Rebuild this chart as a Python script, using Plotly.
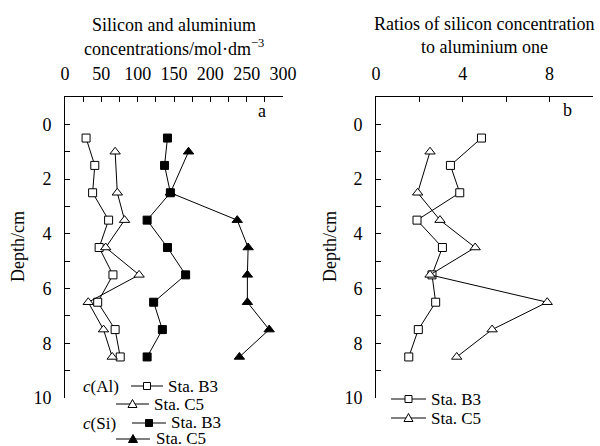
import plotly.graph_objects as go

# ---- data ----
depth_al_b3 = [0.5, 1.5, 2.5, 3.5, 4.5, 5.5, 6.5, 7.5, 8.5]
al_b3 = [29, 41, 38, 60, 47, 66, 45, 69, 76]
depth_al_c5 = [1.0, 2.5, 3.5, 4.5, 5.5, 6.5, 7.5, 8.5]
al_c5 = [69, 72, 82, 56, 102, 32, 53, 65]
depth_si_b3 = [0.5, 1.5, 2.5, 3.5, 4.5, 5.5, 6.5, 7.5, 8.5]
si_b3 = [141, 137, 145, 113, 141, 166, 122, 134, 113]
depth_si_c5 = [1.0, 2.5, 3.5, 4.5, 5.5, 6.5, 7.5, 8.5]
si_c5 = [170, 145, 237, 252, 251, 251, 281, 240]
depth_r_b3 = [0.5, 1.5, 2.5, 3.5, 4.5, 5.5, 6.5, 7.5, 8.5]
ratio_b3 = [4.86, 3.43, 3.86, 1.89, 3.06, 2.58, 2.75, 1.95, 1.51]
depth_r_c5 = [1.0, 2.5, 3.5, 4.5, 5.5, 6.5, 7.5, 8.5]
ratio_c5 = [2.49, 1.92, 2.95, 4.57, 2.49, 7.89, 5.35, 3.72]
depth_ticks = [0, 2, 4, 6, 8, 10]

W, H = 600, 446
FONT = "Liberation Serif"
FS = 18
LFS = 17

fig = go.Figure()

def series(x, y, symbol, filled, xa, ya):
    fig.add_trace(go.Scatter(
        x=x, y=y, mode="lines+markers", xaxis=xa, yaxis=ya,
        line=dict(color="black", width=1),
        marker=dict(symbol=symbol, size=8 if "square" in symbol else 9,
                    color="black" if filled else "white",
                    line=dict(color="black", width=1)),
        showlegend=False, hoverinfo="skip"))

series(al_b3, depth_al_b3, "square", False, "x", "y")
series(al_c5, depth_al_c5, "triangle-up", False, "x", "y")
series(si_c5, depth_si_c5, "triangle-up", True, "x", "y")
series(si_b3, depth_si_b3, "square", True, "x", "y")
series(ratio_b3, depth_r_b3, "square", False, "x2", "y2")
series(ratio_c5, depth_r_c5, "triangle-up", False, "x2", "y2")

def px_x(p):
    return p / W

def px_y(p):
    return 1 - p / H

# ---- legend glyphs as paper shapes ----
shapes = []
def glyph(x0, x1, y, kind, filled):
    xm = (x0 + x1) / 2
    shapes.append(dict(type="line", xref="paper", yref="paper",
                       x0=px_x(x0), x1=px_x(x1), y0=px_y(y), y1=px_y(y),
                       line=dict(color="black", width=1)))
    fill = "black" if filled else "white"
    if kind == "square":
        s = 3.5
        shapes.append(dict(type="rect", xref="paper", yref="paper",
                           x0=px_x(xm - s), x1=px_x(xm + s), y0=px_y(y + s), y1=px_y(y - s),
                           line=dict(color="black", width=1), fillcolor=fill))
    else:
        path = "M {:.5f},{:.5f} L {:.5f},{:.5f} L {:.5f},{:.5f} Z".format(
            px_x(xm - 4.5), px_y(y + 3.5), px_x(xm + 4.5), px_y(y + 3.5), px_x(xm), px_y(y - 4.5))
        shapes.append(dict(type="path", xref="paper", yref="paper", path=path,
                           line=dict(color="black", width=1), fillcolor=fill))

glyph(131, 163, 386, "square", False)
glyph(116, 149, 404, "triangle", False)
glyph(132, 166, 423, "square", True)
glyph(116, 150, 439, "triangle", True)
glyph(391, 426, 399, "square", False)
glyph(391, 426, 418, "triangle", False)

ydom = [px_y(398), px_y(97)]
xdom1 = [px_x(65), px_x(283)]
xdom2 = [px_x(376), px_x(593)]

axis_font = dict(family=FONT, size=FS, color="black")

def xaxis(rng, dtick, mdtick, dom, anchor):
    return dict(domain=dom, range=rng, side="top", anchor=anchor,
                showline=True, linecolor="black", linewidth=1,
                ticks="inside", ticklen=5, tickcolor="black", dtick=dtick, tick0=0,
                minor=dict(dtick=mdtick, ticks="inside", ticklen=5, tickcolor="black"),
                showgrid=False, zeroline=False, tickfont=axis_font,
                ticklabelstandoff=9)

def yaxis(dom, anchor):
    return dict(domain=dom, range=[10, -1], anchor=anchor,
                showline=True, linecolor="black", linewidth=1,
                ticks="inside", ticklen=5, tickcolor="black",
                tickmode="array", tickvals=depth_ticks,
                ticktext=[f"{v}\u00a0\u00a0" for v in depth_ticks],
                minor=dict(tickmode="linear", tick0=0, dtick=1, ticks="inside",
                           ticklen=5, tickcolor="black"),
                showgrid=False, zeroline=False, tickfont=axis_font)

ann = []
def text(x, y, t, size=FS, angle=0, xanchor="center"):
    ann.append(dict(x=px_x(x), y=px_y(y), xref="paper", yref="paper", text=t,
                    showarrow=False, font=dict(family=FONT, size=size, color="black"),
                    textangle=angle, xanchor=xanchor, yanchor="middle"))

text(174, 25, "Silicon and aluminium")
text(174, 48, "concentrations/mol·dm<sup>−3</sup>")
text(484, 24, "Ratios of silicon concentration")
text(484, 47, "to aluminium one")
text(262, 111, "a")
text(567, 110, "b")
text(18, 247, "Depth/cm", angle=-90)
text(330, 247, "Depth/cm", angle=-90)
text(81, 386, "<i>c</i>(Al)", size=LFS, xanchor="left")
text(81, 423, "<i>c</i>(Si)", size=LFS, xanchor="left")
text(166, 386, "Sta. B3", size=LFS, xanchor="left")
text(152, 404, "Sta. C5", size=LFS, xanchor="left")
text(169, 422, "Sta. B3", size=LFS, xanchor="left")
text(154, 438, "Sta. C5", size=LFS, xanchor="left")
text(429, 399, "Sta. B3", size=LFS, xanchor="left")
text(429, 418, "Sta. C5", size=LFS, xanchor="left")

fig.update_layout(
    width=W, height=H, margin=dict(l=0, r=0, t=0, b=0, autoexpand=False),
    paper_bgcolor="white", plot_bgcolor="white",
    font=dict(family=FONT, size=FS, color="black"),
    xaxis=xaxis([0, 300], 50, 25, xdom1, "y"),
    yaxis=yaxis(ydom, "x"),
    xaxis2=xaxis([0, 10], 4, 2, xdom2, "y2"),
    yaxis2=yaxis(ydom, "x2"),
    annotations=ann,
    shapes=shapes,
    showlegend=False,
)

fig.write_html("out.html", config={"displayModeBar": False},
               post_script="document.body.style.margin='0';document.body.style.overflow='hidden';")
